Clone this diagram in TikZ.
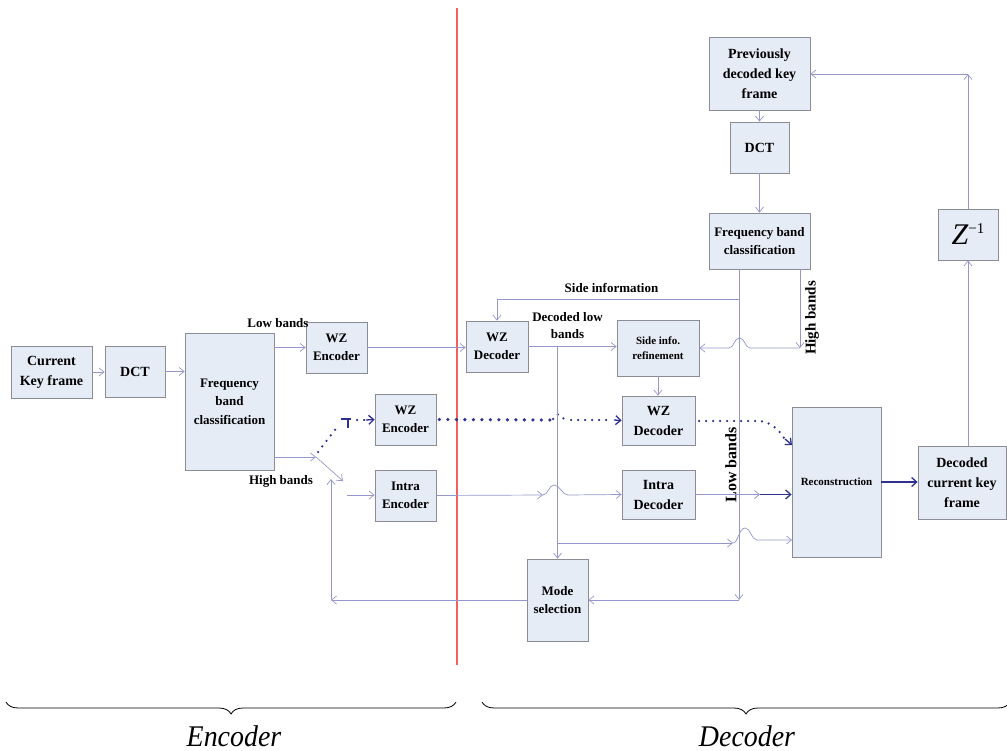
\documentclass[tikz,border=0pt]{standalone}
\usepackage{fontspec}
\setmainfont{Liberation Serif}
\usetikzlibrary{arrows.meta,decorations.pathreplacing,calc}
\definecolor{boxfill}{RGB}{230,236,246}
\definecolor{boxline}{RGB}{140,140,150}
\definecolor{conncol}{RGB}{150,150,205}
\definecolor{navy}{RGB}{46,49,146}
\definecolor{sepred}{RGB}{242,95,95}
\begin{document}
\begin{tikzpicture}[x=1pt,y=-1pt,
 box/.style={draw=boxline, fill=boxfill, line width=0.8pt, inner sep=0pt, align=center, font=\bfseries\fontsize{14}{20}\selectfont},
 fthirteen/.style={font=\bfseries\fontsize{13}{18.5}\selectfont},
 feleven/.style={font=\bfseries\fontsize{11}{15}\selectfont},
 conn/.style={draw=conncol, line width=0.7pt, -{Straight Barb[length=5pt,width=8pt]}},
 plainline/.style={draw=conncol, line width=0.7pt},
 dotbig/.style={draw=navy, line width=3.6pt, line cap=round, dash pattern=on 0pt off 8.5pt},
 dotsmall/.style={draw=navy, line width=2.5pt, line cap=round, dash pattern=on 0pt off 7pt},
 navyarrow/.style={draw=navy, line width=1.3pt, -{Straight Barb[length=5pt,width=9pt]}},
 lbl/.style={font=\bfseries\fontsize{13}{17}\selectfont, inner sep=0pt, align=center}
]
\useasboundingbox (0,0) rectangle (1007,751);

% red separator
\draw[sepred, line width=1.2pt] (457,8) -- (457,665);

% boxes
\node[box, minimum width=81pt, minimum height=52pt] (cur) at (51.5,372) {Current\\Key frame};
\node[box, minimum width=60pt, minimum height=51pt] (dct1) at (135,371.5) {DCT};
\node[box, fthirteen, minimum width=89pt, minimum height=137pt] (fbc1) at (229.5,401.5) {Frequency\\band\\classification};
\node[box, fthirteen, minimum width=61pt, minimum height=51pt] (wze1) at (336.5,347.5) {WZ\\Encoder};
\node[box, fthirteen, minimum width=61pt, minimum height=51pt] (wze2) at (405.5,419.5) {WZ\\Encoder};
\node[box, fthirteen, minimum width=61pt, minimum height=51pt] (ienc) at (405.5,495.5) {Intra\\Encoder};
\node[box, fthirteen, minimum width=62pt, minimum height=51pt] (wzd1) at (497,346.5) {WZ\\Decoder};
\node[box, feleven, minimum width=82pt, minimum height=56pt] (sir) at (658,348) {Side info.\\refinement};
\node[box, minimum width=73pt, minimum height=49pt] (wzd2) at (658.5,420.5) {WZ\\Decoder};
\node[box, minimum width=73pt, minimum height=49pt] (idec) at (658.5,494.5) {Intra\\Decoder};
\node[box, fthirteen, minimum width=61pt, minimum height=82pt] (mode) at (557.5,600) {Mode\\selection};
\node[box, feleven, minimum width=89pt, minimum height=150pt] (recon) at (836.5,482) {Reconstruction};
\node[box, minimum width=88pt, minimum height=73pt] (dckf) at (962,482.5) {Decoded\\current key\\frame};
\node[box, minimum width=101pt, minimum height=73pt] (prev) at (759.5,73.5) {Previously\\decoded key\\frame};
\node[box, minimum width=59pt, minimum height=51pt] (dct2) at (759.5,147.5) {DCT};
\node[box, fthirteen, minimum width=101pt, minimum height=56pt] (fbc2) at (759.5,241) {Frequency band\\classification};
\node[box, font=\fontsize{30}{30}\selectfont, minimum width=60pt, minimum height=51pt] (zinv) at (968,234.5) {\textit{Z}\raisebox{11pt}{\fontsize{15}{15}\selectfont\char"2212 1}};

% labels
\node[lbl] (lowb) at (278,323) {Low bands};
\node[lbl] (highb) at (281,481) {High bands};
\node[lbl] (sideinf) at (611.5,288) {Side information};
\node[lbl] (dlb) at (567.5,326) {Decoded low\\bands};
\node[lbl, rotate=90, font=\bfseries\fontsize{15}{15}\selectfont] (hb2) at (812,318) {High bands};
\node[lbl, rotate=90, font=\bfseries\fontsize{16}{16}\selectfont] (lb2) at (731,465) {Low bands};

% coordinates
\coordinate (sw) at (316,457);
\coordinate (swb) at (343,481);
\coordinate (iein) at (347,495);
\coordinate (fb) at (331,600);
\coordinate (fbt) at (331,479);
\coordinate (siv) at (739,269);
\coordinate (sih) at (739,299);
\coordinate (sil) at (497,299);
\coordinate (vb) at (739,600);
\coordinate (hbt) at (800,269);
\coordinate (hbb) at (800,348);
\coordinate (zt) at (968,74);
\coordinate (rl) at (557.5,543);
\coordinate (rla) at (733,543);
\coordinate (rlb) at (757,540);
\coordinate (rlc) at (792,540);
\coordinate (iea) at (543,495);
\coordinate (idm) at (760,494.5);
\coordinate (rw) at (792,445);

% encoder side connectors
\draw[conn] (cur.east) -- (cur.east -| dct1.west);
\draw[conn] (dct1.east) -- (dct1.east -| fbc1.west);
\draw[conn] (fbc1.east |- wze1.west) -- (wze1.west);
\draw[conn] (fbc1.east |- sw) -- (sw);
\draw[conn] (sw) -- (swb);
\draw[conn] (iein) -- (iein -| ienc.west);
\draw[conn] (wze1.east) -- (wze1.east -| wzd1.west);
\draw[conn] (mode.west) -- (fb);
\draw[conn] (fb) -- (fbt);

% switch dotted branch
\draw[dotsmall] (318,452) -- (338,426);
\draw[navy, line width=1.3pt] (341,419) -- (351,419) (348,419) -- (348,428);
\draw[dotsmall] (357,420) -- (364,420);
\draw[navyarrow] (366,420) -- (wze2.west);

% WZ encoder -> WZ decoder (dotted)
\draw[dotbig] (wze2.east) ++(3,0) -- (550,420);
\draw[dotsmall] (553,419) .. controls (555,413) and (560,413) .. (564,419);
\draw[dotsmall] (571,420) -- (612,420);
\draw[navyarrow] (614,420) -- (wzd2.west);

% WZ decoder -> reconstruction (dotted)
\draw[dotsmall] (699,421) -- (758,421) .. controls (770,421) and (779,430) .. (784,438);
\draw[navyarrow] (785,439) -- (rw);

% intra path
\draw[conn] (ienc.east) -- (iea);
\draw[conn] (iea) .. controls (548,495) and (549,485) .. (554,485) .. controls (560,485) and (562,495) .. (568,495) -- (idec.west);
\draw[conn] (idec.east) -- (idm);
\draw[navyarrow] (idm) -- (idm -| recon.west);

% decoder connectors
\draw[conn] (wzd1.east) -- (wzd1.east -| sir.west);
\draw[conn] (wzd1.east -| mode.north) -- (mode.north);
\draw[conn] (rl) -- (rla);
\draw[conn] (rla) .. controls (738,543) and (739,528) .. (745,528) .. controls (751,528) and (751,540) .. (rlb) -- (rlc);
\draw[conn] (sir.south) -- (sir.south |- wzd2.north);
\draw[plainline] (sih) -- (sil);
\draw[conn] (sil) -- (sil |- wzd1.north);
\draw[conn] (siv) -- (vb);
\draw[conn] (vb) -- (vb -| mode.east);
\draw[conn] (hbt) -- (hbb);
\draw[conn] (hbb) -- (750,348) .. controls (745,348) and (745,338) .. (739.5,338) .. controls (734,338) and (734,348) .. (729,348) -- (sir.east);
\draw[navyarrow] (recon.east) -- (recon.east -| dckf.west);
\draw[conn] (dckf.north -| zinv.south) -- (zinv.south);
\draw[conn] (zinv.north) -- (zt);
\draw[conn] (zt) -- (zt -| prev.east);
\draw[conn] (prev.south) -- (dct2.north);
\draw[conn] (dct2.south) -- (fbc2.north);

% braces
\draw[decorate, decoration={brace, mirror, amplitude=12pt}, line width=0.8pt] (6,702) -- (456,702);
\draw[decorate, decoration={brace, mirror, amplitude=12pt}, line width=0.8pt] (482,702) -- (1010,702);
\node[font=\itshape\fontsize{30}{30}\selectfont, xscale=0.93] (enc) at (234,736) {Encoder};
\node[font=\itshape\fontsize{30}{30}\selectfont, xscale=0.93] (dec) at (747,736) {Decoder};
\end{tikzpicture}
\end{document}
